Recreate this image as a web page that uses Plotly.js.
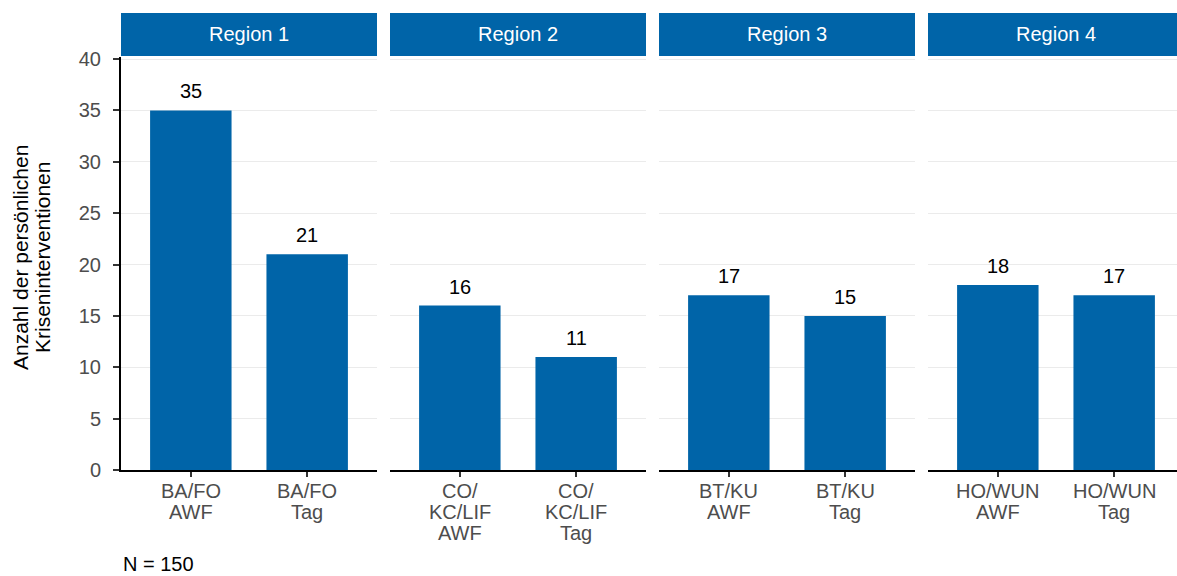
<!DOCTYPE html>
<html><head><meta charset="utf-8">
<script src="https://cdn.plot.ly/plotly-3.0.1.min.js"></script>
<style>html,body{margin:0;padding:0;overflow:hidden;background:#fff}#c{width:1190px;height:576px}</style>
</head><body><div id="c"></div>
<script>
const regions = ["Region 1", "Region 2", "Region 3", "Region 4"];
const categories = [
  ["BA/FO<br>AWF", "BA/FO<br>Tag"],
  ["CO/<br>KC/LIF<br>AWF", "CO/<br>KC/LIF<br>Tag"],
  ["BT/KU<br>AWF", "BT/KU<br>Tag"],
  ["HO/WUN<br>AWF", "HO/WUN<br>Tag"]
];
const values = [
  [35, 21],
  [16, 11],
  [17, 15],
  [18, 17]
];
const yTitleLines = ["Anzahl der persönlichen", "Kriseninterventionen"];
const note = "N = 150";

const BLUE = "#0064A8";
const FONT = "Liberation Sans, Arial, sans-serif";
const FS = 20;
const L = 121, W = 1064, T = 13, H = 457; // plot area px
const panelW = 256, gap = 13;
const yTopPx = 57, stripBottomPx = 56;
const ydomTop = (H - (yTopPx - T)) / H;
const stripY0 = (H - (stripBottomPx - T)) / H;
const pyPx = px => (T + H - px) / H; // page px (y) -> paper
const pxPx = px => (px - L) / W;     // page px (x) -> paper

const traces = [], annotations = [], shapes = [];
const layout = {
  width: 1190, height: 576,
  margin: {l: L, r: 1190 - L - W, t: T, b: 576 - T - H},
  paper_bgcolor: "#fff", plot_bgcolor: "#fff",
  showlegend: false,
  font: {family: FONT, size: FS, color: "#4d4d4d"}
};

regions.forEach((reg, i) => {
  const sfx = i === 0 ? "" : String(i + 1);
  const x0 = (i * (panelW + gap)) / W, x1 = (i * (panelW + gap) + panelW) / W;
  traces.push({
    type: "bar", x: categories[i], y: values[i],
    xaxis: "x" + sfx, yaxis: "y" + sfx,
    marker: {color: BLUE}, width: 0.7,
    hoverinfo: "x+y"
  });
  layout["xaxis" + sfx] = {
    domain: [x0, x1], anchor: "y" + sfx, type: "category",
    range: [-0.6, 1.6], showgrid: false, zeroline: false,
    showline: true, linecolor: "#000", linewidth: 2,
    ticks: "outside", ticklen: 5, tickwidth: 2, tickcolor: "#333",
    showticklabels: false,
    fixedrange: true
  };
  layout["yaxis" + sfx] = {
    domain: [0, ydomTop], anchor: "x" + sfx,
    range: [0, 40.2], tickvals: [0, 5, 10, 15, 20, 25, 30, 35, 40],
    showgrid: true, gridcolor: "#EBEBEB", gridwidth: 1, zeroline: false,
    showline: i === 0, linecolor: "#000", linewidth: 2,
    ticks: i === 0 ? "outside" : "", ticklen: 6, tickwidth: 2, tickcolor: "#333",
    showticklabels: i === 0, ticklabelstandoff: 8,
    tickfont: {family: FONT, size: FS, color: "#4d4d4d"},
    fixedrange: true
  };
  if (i > 0) layout["yaxis" + sfx].matches = "y";
  shapes.push({type: "rect", xref: "paper", yref: "paper", x0: x0, x1: x1, y0: stripY0, y1: 1,
    fillcolor: BLUE, line: {width: 0}, layer: "above"});
  annotations.push({xref: "paper", yref: "paper", x: (x0 + x1) / 2, y: (stripY0 + 1) / 2,
    text: reg, showarrow: false, xanchor: "center", yanchor: "middle",
    font: {family: FONT, size: FS, color: "#fff"}});
  categories[i].forEach((c, j) => {
    annotations.push({xref: "x" + sfx, yref: "y" + sfx, x: c, y: values[i][j],
      text: String(values[i][j]), showarrow: false, xanchor: "center", yanchor: "bottom",
      yshift: 6, font: {family: FONT, size: FS, color: "#000"}});
    // category tick label, one annotation per line for tight line spacing
    c.split("<br>").forEach((line, k) => {
      annotations.push({xref: "x" + sfx, yref: "paper", x: c, y: pyPx(491 + 21 * k),
        text: line, showarrow: false, xanchor: "center", yanchor: "middle",
        font: {family: FONT, size: FS, color: "#4d4d4d"}});
    });
  });
});

yTitleLines.forEach((line, k) => {
  annotations.push({xref: "paper", yref: "paper", x: pxPx(20 + 22 * k), y: pyPx(258),
    text: line, textangle: -90, showarrow: false, xanchor: "center", yanchor: "middle",
    font: {family: FONT, size: 21, color: "#000"}});
});
annotations.push({xref: "paper", yref: "paper", x: 0, y: pyPx(564),
  text: note, showarrow: false, xanchor: "left", yanchor: "middle",
  font: {family: FONT, size: FS, color: "#000"}});

layout.shapes = shapes;
layout.annotations = annotations;
Plotly.newPlot("c", traces, layout, {displayModeBar: false, staticPlot: true});
</script></body></html>
